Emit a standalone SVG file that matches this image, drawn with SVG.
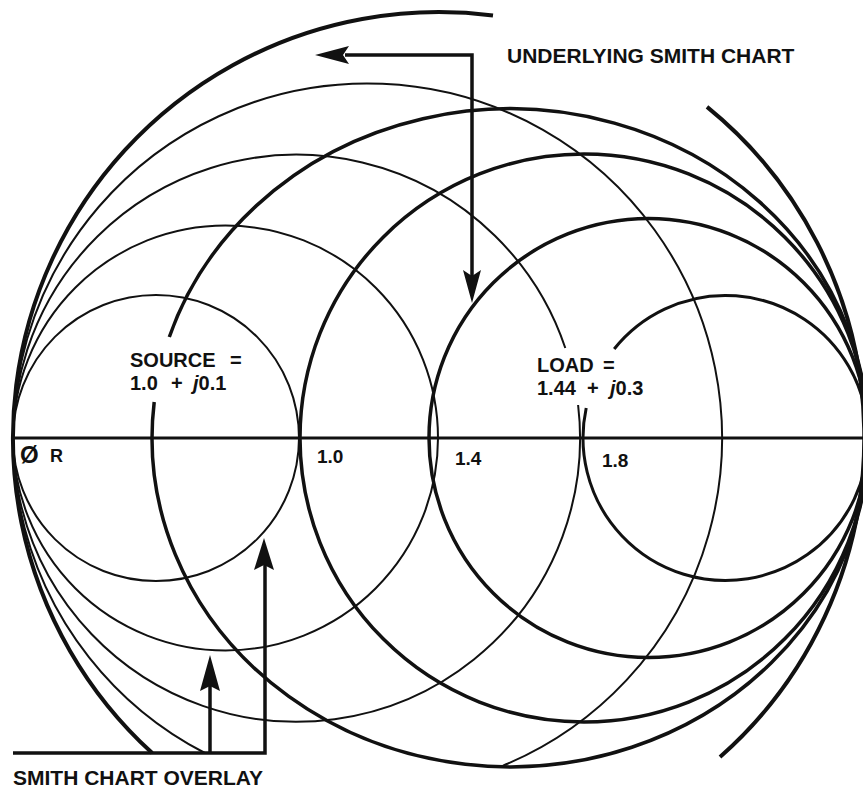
<svg xmlns="http://www.w3.org/2000/svg" width="863" height="788" viewBox="0 0 863 788">
<style>
.thin{fill:none;stroke:#111;stroke-width:2}
.thick{fill:none;stroke:#111;stroke-width:3.5}
.outer{fill:none;stroke:#111;stroke-width:4}
.conn{fill:none;stroke:#111;stroke-width:3.5}
.head{fill:#111}
text{font-family:"Liberation Sans",Arial,sans-serif;font-weight:bold;fill:#111}
.it{font-style:italic}
</style>
<rect width="863" height="788" fill="#fff"/>
<g id="outer-circle">
<path class="outer" d="M493 15.4 A426 426 0 0 0 152.2 753"/>
<path class="outer" d="M707 106.9 A426 426 0 0 1 720 757"/>
</g>
<g id="overlay-chart">
<circle class="thin" cx="156" cy="438" r="143"/>
<circle class="thin" cx="225.5" cy="438" r="212.5"/>
<path class="thin" d="M578.1 405 A283.5 283.5 0 1 1 565.3 348"/>
<path class="thin" d="M503 765.6 A354.5 354.5 0 1 0 204.9 753"/>
</g>
<g id="underlying-chart">
<path class="thick" d="M169.3 337 A358 329 0 1 1 154.2 402"/>
<circle class="thick" cx="584" cy="438" r="284"/>
<circle class="thick" cx="648.5" cy="438" r="219.5"/>
<path class="thick" style="stroke-width:3" d="M614.2 349 A142.5 142.5 0 1 1 586.2 408"/>
</g>
<g id="axis">
<line x1="13" y1="438" x2="863" y2="438" stroke="#111" stroke-width="3"/>
</g>
<g id="connectors">
<path class="conn" d="M472 276 V55 H345"/>
<path class="head" d="M315 55 L349 46 L343 55 L349 64 Z"/>
<path class="head" d="M472 303 L463 270 L472 276 L481 270 Z"/>
<path class="conn" d="M13 753 H265 V565"/>
<path class="conn" d="M210 753 V686"/>
<path class="head" d="M264 538 L254 570 L264 565 L274 570 Z"/>
<path class="head" d="M210 655 L200 691 L210 686 L220 691 Z"/>
</g>
<g id="labels">
<text x="507" y="63" font-size="21">UNDERLYING SMITH CHART</text>
<text x="130" y="367" font-size="20">SOURCE<tspan x="230">=</tspan></text>
<text x="130" y="390" font-size="20">1.0<tspan x="171">+</tspan><tspan x="193" class="it">j</tspan>0.1</text>
<text x="537" y="372" font-size="20">LOAD<tspan x="603">=</tspan></text>
<text x="537" y="395" font-size="20">1.44<tspan x="587">+</tspan><tspan x="610" class="it">j</tspan>0.3</text>
<text x="20" y="463" font-size="24">Ø</text>
<text x="50" y="462" font-size="18">R</text>
<text x="317" y="463" font-size="19">1.0</text>
<text x="455" y="465" font-size="19">1.4</text>
<text x="602" y="467" font-size="19">1.8</text>
<text x="13" y="785" font-size="21">SMITH CHART OVERLAY</text>
</g>
</svg>
